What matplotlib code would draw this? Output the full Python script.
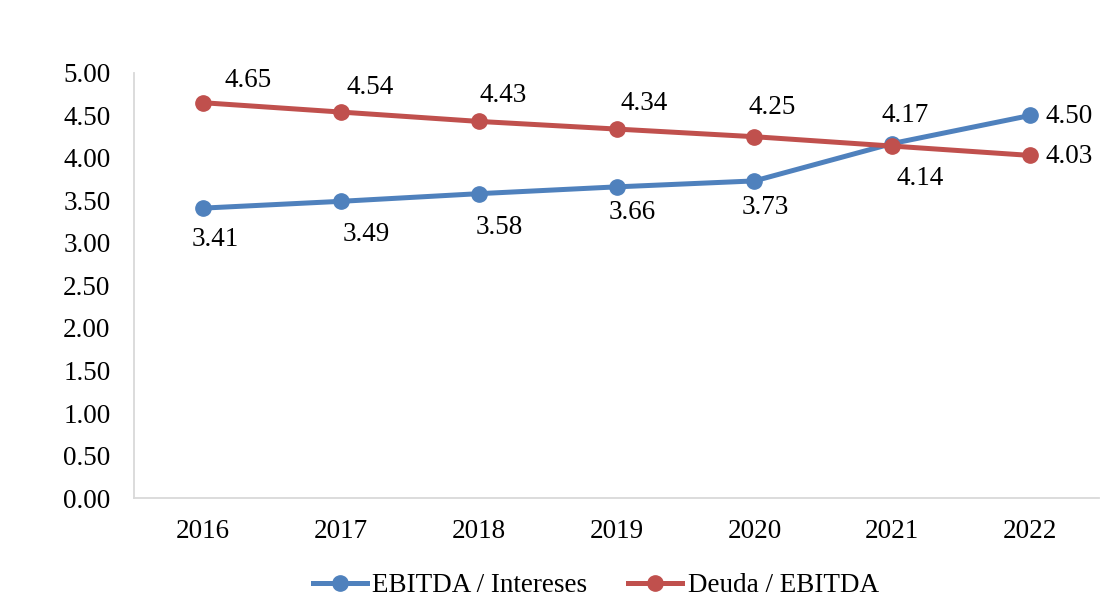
import matplotlib
matplotlib.use("Agg")
import matplotlib.pyplot as plt
from matplotlib.lines import Line2D

years = ["2016", "2017", "2018", "2019", "2020", "2021", "2022"]
ebitda_intereses = [3.41, 3.49, 3.58, 3.66, 3.73, 4.17, 4.50]
deuda_ebitda = [4.65, 4.54, 4.43, 4.34, 4.25, 4.14, 4.03]
yticks = [0.0, 0.5, 1.0, 1.5, 2.0, 2.5, 3.0, 3.5, 4.0, 4.5, 5.0]

# label offsets in pixels (dx, dy upward)
blue_off = [(12, -31), (25, -33), (21, -34), (16, -26), (11, -27), (13, 28), (39, -1)]
red_off = [(45, 22), (29, 25), (24, 26), (28, 26), (18, 29), (28, -32), (39, -1)]

BLUE = "#4F81BD"
RED = "#C0504D"
FS = 19.5

plt.rcParams["font.family"] = ["Liberation Serif", "DejaVu Serif"]
fig = plt.figure(figsize=(11.03, 5.97), dpi=100)
ax = fig.add_axes([0.1215, 0.1658, 0.875, 0.712])

x = list(range(len(years)))
ax.plot(x, ebitda_intereses, color=BLUE, lw=3.6, marker="o", ms=11, solid_capstyle="round", zorder=3)
ax.plot(x, deuda_ebitda, color=RED, lw=3.6, marker="o", ms=11, solid_capstyle="round", zorder=4)

for i, v in enumerate(ebitda_intereses):
    ax.annotate(f"{v:.2f}", (i, v), xytext=blue_off[i], textcoords="offset pixels",
                ha="center", va="center", fontsize=FS, color="black")
for i, v in enumerate(deuda_ebitda):
    ax.annotate(f"{v:.2f}", (i, v), xytext=red_off[i], textcoords="offset pixels",
                ha="center", va="center", fontsize=FS, color="black")

ax.set_xlim(-0.5, len(years) - 0.5)
ax.set_ylim(0, 5)
ax.set_xticks(x)
ax.set_xticklabels(years, fontsize=FS)
ax.set_yticks(yticks)
ax.set_yticklabels([f"{t:.2f}" for t in yticks], fontsize=FS)
ax.tick_params(axis="both", length=0)
ax.tick_params(axis="x", pad=15)
ax.tick_params(axis="y", pad=17)
for s in ["top", "right"]:
    ax.spines[s].set_visible(False)
for s in ["left", "bottom"]:
    ax.spines[s].set_color("#D9D9D9")
    ax.spines[s].set_linewidth(1.3)

handles = [
    Line2D([], [], color=BLUE, lw=3.6, marker="o", ms=11),
    Line2D([], [], color=RED, lw=3.6, marker="o", ms=11),
]
fig.legend(handles, ["EBITDA / Intereses", "Deuda / EBITDA"], loc="center",
           bbox_to_anchor=(0.54, 0.019), ncol=2, frameon=False, fontsize=FS,
           handlelength=2.0, handletextpad=0.2, columnspacing=1.5)

fig.savefig("out.png", dpi=100)
